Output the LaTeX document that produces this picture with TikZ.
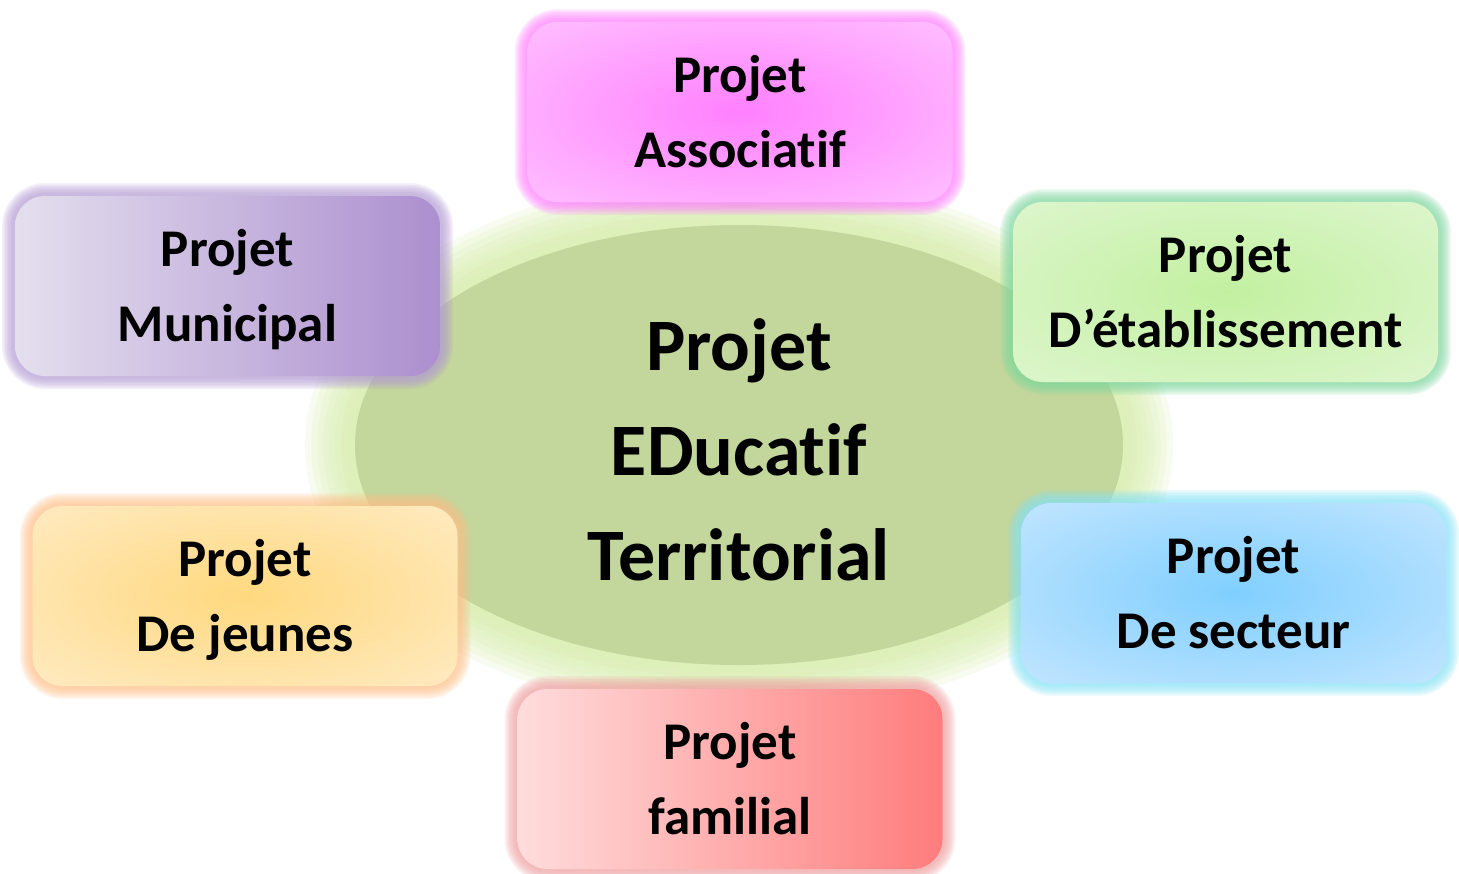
\documentclass[tikz,border=0pt]{standalone}
\usepackage{fontspec}
\setmainfont{Carlito}[Ligatures=NoCommon]
\usetikzlibrary{shapes.geometric}
\definecolor{aIn}{HTML}{FF80FF}\definecolor{aOut}{HTML}{FFD8FF}\definecolor{aGlow}{HTML}{FF80FF}
\definecolor{mL}{HTML}{E4DFEE}\definecolor{mR}{HTML}{AC8FCF}\definecolor{mGlow}{HTML}{B49CD4}
\definecolor{eIn}{HTML}{C2F0A0}\definecolor{eOut}{HTML}{E8F8DF}\definecolor{eGlow}{HTML}{80D6A0}
\definecolor{jIn}{HTML}{FFD97F}\definecolor{jOut}{HTML}{FFF1DC}\definecolor{jGlow}{HTML}{FFC08A}
\definecolor{sIn}{HTML}{80CFFF}\definecolor{sOut}{HTML}{DCEEFF}\definecolor{sGlow}{HTML}{88E2F5}
\definecolor{fL}{HTML}{FFDCDC}\definecolor{fR}{HTML}{FF7C7C}\definecolor{fGlow}{HTML}{EFA0A0}
\definecolor{elFill}{HTML}{C3D69B}\definecolor{elGlow}{HTML}{D3EBA5}
\pgfdeclareradialshading{shA}{\pgfpointorigin}{color(0bp)=(aIn); color(50bp)=(aOut); color(100bp)=(aOut)}
\pgfdeclareradialshading{shE}{\pgfpointorigin}{color(0bp)=(eIn); color(50bp)=(eOut); color(100bp)=(eOut)}
\pgfdeclareradialshading{shJ}{\pgfpointorigin}{color(0bp)=(jIn); color(50bp)=(jOut); color(100bp)=(jOut)}
\pgfdeclareradialshading{shS}{\pgfpointorigin}{color(0bp)=(sIn); color(50bp)=(sOut); color(100bp)=(sOut)}
\newcommand\boxtxt[2]{\raisebox{0pt}[17.5pt][0pt]{#1}\\\raisebox{0pt}[0pt][0pt]{#2}}
\tikzset{
  pbox/.style={rectangle, rounded corners=15pt, minimum width=212.5pt, minimum height=90pt,
    inner sep=0pt, align=center, font=\bfseries\fontsize{26.5}{37.5}\selectfont},
  gl/.style 2 args={preaction={draw=#1,line width=#2,draw opacity=.15}},
  glow/.style={gl={#1}{13pt},gl={#1}{11.5pt},gl={#1}{10pt},gl={#1}{8.5pt},
    gl={#1}{7pt},gl={#1}{5.5pt},gl={#1}{4pt},gl={#1}{2.5pt}},
  egl/.style 2 args={preaction={draw=#1,line width=#2,draw opacity=.17}},
  elglow/.style={egl={#1}{50pt},egl={#1}{44pt},egl={#1}{38pt},egl={#1}{32pt},
    egl={#1}{26pt},egl={#1}{20pt},egl={#1}{14pt},egl={#1}{8pt}},
}
\begin{document}
\begin{tikzpicture}[x=0.5pt,y=-0.5pt]
\useasboundingbox (0,0) rectangle (1459,873);
\node[ellipse, minimum width=384pt, minimum height=220pt, inner sep=0pt, fill=elFill,
  elglow=elGlow, align=center, font=\bfseries\fontsize{37}{52.5}\selectfont] (pet) at (739,445)
  {\raisebox{0pt}[30pt][0pt]{Projet}\\EDucatif\\\raisebox{0pt}[0pt][0pt]{Territorial}};
\node[pbox, glow=aGlow, shading=shA] (assoc) at (740,112) {\boxtxt{Projet}{Associatif}};
\node[pbox, glow=mGlow, left color=mL, right color=mR] (munic) at (227.5,286) {\boxtxt{Projet}{Municipal}};
\node[pbox, glow=eGlow, shading=shE] (etab) at (1225.5,292) {\boxtxt{Projet}{D’établissement}};
\node[pbox, glow=jGlow, shading=shJ] (jeunes) at (245,596) {\boxtxt{Projet}{De jeunes}};
\node[pbox, glow=sGlow, shading=shS] (secteur) at (1233.5,593) {\boxtxt{Projet}{De secteur}};
\node[pbox, glow=fGlow, left color=fL, right color=fR] (famil) at (730,779) {\boxtxt{Projet}{familial}};
\end{tikzpicture}
\end{document}
